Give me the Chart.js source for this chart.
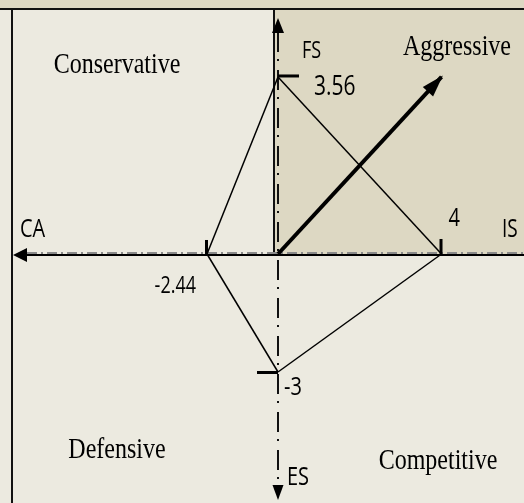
<!DOCTYPE html>
<html>
<head>
<meta charset="utf-8">
<script src="https://cdn.jsdelivr.net/npm/chart.js@4.4.0/dist/chart.umd.min.js"></script>
<style>
  html, body { margin: 0; padding: 0; background: #eceae0; }
  #wrap { width: 524px; height: 503px; position: relative; }
</style>
</head>
<body>
<div id="wrap"><canvas id="spaceChart"></canvas></div>
<script>
// SPACE matrix scores (IS, FS, CA, ES)
const dimensions = ['IS', 'FS', 'CA', 'ES'];
const scores = [4, 3.56, -2.44, -3];
const quadrants = ['Aggressive', 'Conservative', 'Defensive', 'Competitive'];
// arrow pointing into the aggressive quadrant
const arrowX = [0, 4];
const arrowY = [0, 3.56];

const IS = scores[0], FS = scores[1], CA = scores[2], ES = scores[3];

// the original drawing is not to scale: each half-axis gets its own linear scale,
// all four share the same zero
function edge(p1, p2, xId, yId) {
    return {
        data: [p1, p2],
        xAxisID: xId,
        yAxisID: yId,
        showLine: true,
        borderColor: '#000',
        borderWidth: 1.5,
        pointRadius: 0,
        tension: 0
    };
}

const datasets = [
    edge({ x: CA, y: 0 }, { x: 0, y: FS }, 'xLeft', 'yTop'),
    edge({ x: 0, y: FS }, { x: IS, y: 0 }, 'xRight', 'yTop'),
    edge({ x: IS, y: 0 }, { x: 0, y: ES }, 'xRight', 'yBottom'),
    edge({ x: 0, y: ES }, { x: CA, y: 0 }, 'xLeft', 'yBottom'),
    {
        data: arrowX.map((v, i) => ({ x: v, y: arrowY[i] })),
        xAxisID: 'xRight',
        yAxisID: 'yTop',
        showLine: true,
        borderColor: '#000',
        borderWidth: 4,
        pointRadius: 0
    }
];

const SANS = '"Open Sans", "Noto Sans", sans-serif';
const SERIF = '"Liberation Serif", "Times New Roman", serif';

function label(ctx, text, x, y, size, family, align, stretch) {
    ctx.save();
    ctx.translate(x, y);
    ctx.scale(1, stretch);
    ctx.font = size + 'px ' + family;
    ctx.fillStyle = '#000';
    ctx.textAlign = align;
    ctx.textBaseline = 'alphabetic';
    ctx.fillText(text, 0, 0);
    ctx.restore();
}

function triangle(ctx, ax, ay, bx, by, cx, cy) {
    ctx.beginPath();
    ctx.moveTo(ax, ay);
    ctx.lineTo(bx, by);
    ctx.lineTo(cx, cy);
    ctx.closePath();
    ctx.fill();
}

const spacePlugin = {
    id: 'spacePlugin',
    beforeDraw(chart) {
        const { ctx, chartArea: a, scales } = chart;
        const x0 = scales.xRight.getPixelForValue(0);
        const y0 = scales.yTop.getPixelForValue(0);
        ctx.save();
        ctx.fillStyle = '#eceae0';
        ctx.fillRect(0, 0, chart.width, chart.height);
        ctx.fillStyle = '#ddd8c3';
        ctx.fillRect(0, 0, chart.width, 8);
        ctx.fillRect(x0 - 4, a.top, a.right - x0 + 4, y0 - a.top);
        ctx.fillStyle = '#111';
        ctx.fillRect(0, 8, chart.width, 2);
        ctx.fillRect(11, 8, 2, chart.height - 8);
        ctx.fillRect(x0 - 5, a.top, 2, y0 - a.top);
        ctx.restore();
    },
    beforeDatasetsDraw(chart) {
        const { ctx, chartArea: a, scales } = chart;
        const x0 = scales.xRight.getPixelForValue(0);
        const y0 = scales.yTop.getPixelForValue(0);
        ctx.save();
        // horizontal axis: grey dash-dot over a solid line
        ctx.strokeStyle = '#8a8a8a';
        ctx.lineWidth = 2;
        ctx.setLineDash([10, 4, 2, 4]);
        ctx.beginPath();
        ctx.moveTo(a.left + 14, y0 - 1);
        ctx.lineTo(a.right, y0 - 1);
        ctx.stroke();
        ctx.setLineDash([]);
        ctx.strokeStyle = '#000';
        ctx.beginPath();
        ctx.moveTo(a.left + 12, y0 + 1);
        ctx.lineTo(a.right, y0 + 1);
        ctx.stroke();
        // vertical axis: dash-dot
        ctx.strokeStyle = '#111';
        ctx.setLineDash([20, 7, 2, 9]);
        ctx.beginPath();
        ctx.moveTo(x0, a.top + 22);
        ctx.lineTo(x0, a.bottom - 18);
        ctx.stroke();
        ctx.setLineDash([]);
        // axis arrowheads
        ctx.fillStyle = '#000';
        triangle(ctx, a.left, y0 + 1, a.left + 14, y0 - 6, a.left + 14, y0 + 8);
        triangle(ctx, x0, a.top + 8, x0 - 6, a.top + 23, x0 + 6, a.top + 23);
        triangle(ctx, x0, a.bottom - 3, x0 - 5.5, a.bottom - 18, x0 + 5.5, a.bottom - 18);
        ctx.restore();
    },
    afterDatasetsDraw(chart) {
        const { ctx, chartArea: a, scales } = chart;
        const x0 = scales.xRight.getPixelForValue(0);
        const y0 = scales.yTop.getPixelForValue(0);
        const pIS = scales.xRight.getPixelForValue(IS);
        const pCA = scales.xLeft.getPixelForValue(CA);
        const pFS = scales.yTop.getPixelForValue(FS);
        const pES = scales.yBottom.getPixelForValue(ES);
        ctx.save();
        ctx.fillStyle = '#000';
        // score ticks
        ctx.fillRect(pCA - 2, y0 - 14, 3, 15);
        ctx.fillRect(pIS - 2, y0 - 15, 3, 16);
        ctx.fillRect(x0, pFS - 2.5, 21, 3);
        ctx.fillRect(x0 - 21, pES - 1, 21, 3);

        // arrowhead of the direction vector
        const pts = chart.getDatasetMeta(4).data;
        const sx = pts[0].x, sy = pts[0].y, ex = pts[1].x, ey = pts[1].y;
        const ang = Math.atan2(ey - sy, ex - sx);
        const len = 20, half = 7;
        const bx = ex - len * Math.cos(ang), by = ey - len * Math.sin(ang);
        triangle(ctx, ex + 2 * Math.cos(ang), ey + 2 * Math.sin(ang),
            bx + half * Math.sin(ang), by - half * Math.cos(ang),
            bx - half * Math.sin(ang), by + half * Math.cos(ang));
        ctx.restore();

        // score labels
        const st = 1.3;
        label(ctx, String(FS), x0 + 36, pFS + 18, 21, SANS, 'left', st);
        label(ctx, String(IS), pIS + 7, y0 - 28, 20, SANS, 'left', st);
        label(ctx, String(CA), pCA - 11, y0 + 39, 18, SANS, 'right', st);
        label(ctx, String(ES), x0 + 6, pES + 23, 20, SANS, 'left', st);

        // axis names
        label(ctx, dimensions[1], x0 + 24, 58, 18, SANS, 'left', st);
        label(ctx, dimensions[0], a.right - 22, y0 - 17, 19, SANS, 'left', st);
        label(ctx, dimensions[2], a.left + 7, y0 - 17, 20, SANS, 'left', st);
        label(ctx, dimensions[3], x0 + 9, a.bottom - 18, 20, SANS, 'left', st);

        // quadrant names
        const qs = 1.25;
        label(ctx, quadrants[0], 457, 55, 24, SERIF, 'center', qs);
        label(ctx, quadrants[1], 117, 73, 24, SERIF, 'center', qs);
        label(ctx, quadrants[2], 117, 458, 24, SERIF, 'center', qs);
        label(ctx, quadrants[3], 438, 469, 24, SERIF, 'center', qs);
    }
};

const hidden = { type: 'linear', display: false };

new Chart(document.getElementById('spaceChart'), {
    type: 'scatter',
    data: { datasets: datasets },
    options: {
        responsive: true,
        maintainAspectRatio: false,
        animation: false,
        layout: { padding: { left: 13, top: 10, right: 0, bottom: 0 } },
        plugins: {
            legend: { display: false },
            tooltip: { enabled: false }
        },
        scales: {
            x: hidden,
            y: hidden,
            xLeft: Object.assign({}, hidden, { axis: 'x', min: -9.107, max: 8.454 }),
            xRight: Object.assign({}, hidden, { axis: 'x', min: -6.483, max: 6.018 }),
            yTop: Object.assign({}, hidden, { axis: 'y', min: -5.008, max: 4.907 }),
            yBottom: Object.assign({}, hidden, { axis: 'y', min: -6.331, max: 6.204 })
        }
    },
    plugins: [spacePlugin]
});
</script>
</body>
</html>
